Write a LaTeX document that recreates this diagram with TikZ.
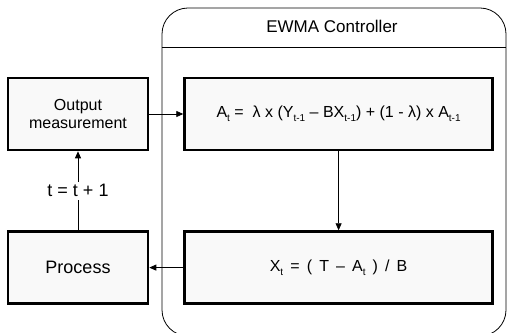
\documentclass[tikz,border=0pt]{standalone}
\usepackage{fontspec}
\setmainfont{Liberation Sans}
\usetikzlibrary{arrows.meta, positioning}

\newcommand{\idx}[1]{\raisebox{-0.45ex}{\fontsize{10}{11}\selectfont #1}}

\begin{document}
\begin{tikzpicture}[x=1pt, y=1pt,
      font=\fontsize{16}{18.5}\selectfont,
      box/.style={draw, rectangle, line width=2.6pt, minimum width=140pt,
          minimum height=72pt, align=center, fill=gray!5},
      widebox/.style={box, minimum width=308pt, font=\fontsize{16}{19}\selectfont},
      arr/.style={-{Triangle[length=7pt, width=6pt]}, line width=0.8pt},
      big/.style={font=\fontsize{18}{21}\selectfont},
    ]
    \useasboundingbox (0,0) rectangle (508,332);

    % controller frame
    \draw[line width=0.8pt, rounded corners=26pt] (162,-4) rectangle (506,324);
    \draw[line width=0.8pt] (162,285) -- (506,285);
    \node[font=\fontsize{17}{20}\selectfont] (title) at (332,306) {EWMA Controller};

    \node[box] (meas) at (78,218) {Output\\measurement};
    \node[box, big, below=79pt of meas] (proc) {Process};
    \node[widebox, right=34pt of meas] (ewma)
        {A\idx{t} = \ λ x (Y\idx{t-1} – BX\idx{t-1}) + (1 - λ) x A\idx{t-1}};
    \node[widebox, below=79pt of ewma] (setp)
        {X\idx{t}\, =\, (\, T\, –\, A\idx{t}\, )\, /\, B};

    \draw[arr] (meas) -- (ewma);
    \draw[arr] (ewma) -- (setp);
    \draw[arr] (setp) -- (proc);
    \draw[arr] (proc) -- node[big, fill=white, inner sep=3pt] (step) {t = t + 1} (meas);

  \end{tikzpicture}
\end{document}
